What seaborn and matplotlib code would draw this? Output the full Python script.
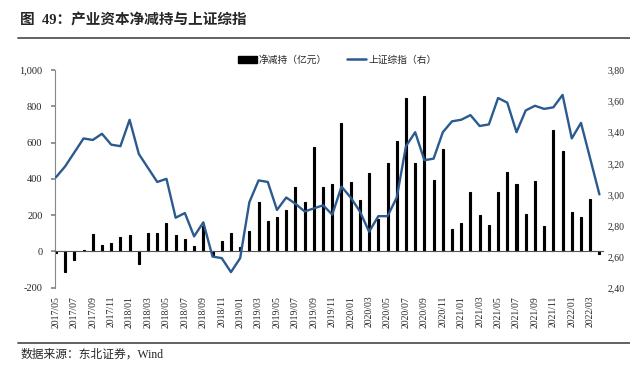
import numpy as np
import pandas as pd
import matplotlib
matplotlib.use("Agg")
import matplotlib.pyplot as plt
import seaborn as sns
from matplotlib.lines import Line2D
from matplotlib.patches import Patch
from matplotlib.ticker import FuncFormatter

# ---------------- data ----------------
months = [f"{y}/{m:02d}" for y in range(2017, 2023) for m in range(1, 13)]
months = months[months.index("2017/05"):months.index("2022/04") + 1]

net_reduction = [-8, -116, -50, 10, 97, 35, 47, 79,
                 93, -68, 99, 99, 156, 88, 70, 31, 140, -20, 57, 103,
                 22, 114, 270, 167, 189, 226, 354, 270, 575, 354, 372, 709,
                 382, 281, 431, 178, 488, 611, 843, 488, 854, 391, 565, 122,
                 155, 325, 200, 148, 325, 440, 370, 205, 390, 140, 670, 555,
                 215, 192, 290, -12]

sh_index = [3.11, 3.18, 3.27, 3.36, 3.35, 3.39, 3.32, 3.31,
            3.48, 3.26, 3.17, 3.08, 3.10, 2.85, 2.88, 2.73, 2.82, 2.60, 2.59, 2.50,
            2.59, 2.95, 3.09, 3.08, 2.90, 2.98, 2.94, 2.89, 2.91, 2.93, 2.87, 3.05,
            2.98, 2.89, 2.76, 2.86, 2.86, 2.98, 3.31, 3.40, 3.22, 3.23, 3.40, 3.47,
            3.48, 3.51, 3.44, 3.45, 3.62, 3.59, 3.40, 3.54, 3.57, 3.55, 3.56, 3.64,
            3.36, 3.46, 3.23, 3.00]

left_ticks = [-200, 0, 200, 400, 600, 800, 1000]
right_ticks = [2.40, 2.60, 2.80, 3.00, 3.20, 3.40, 3.60, 3.80]

title = "图  49：产业资本净减持与上证综指"
source = "数据来源：东北证券，Wind"
bar_label = "净减持（亿元）"
line_label = "上证综指（右）"

# ---------------- style ----------------
sns.set_theme(style="white")
plt.rcParams["font.family"] = ["Liberation Serif", "Noto Sans CJK SC", "DejaVu Sans"]
plt.rcParams["axes.unicode_minus"] = False

LINE_COLOR = "#2B5A8F"

fig = plt.figure(figsize=(6.3, 3.66), dpi=100)
ax = fig.add_axes([0.0873, 0.214, 0.8700, 0.5947])

df = pd.DataFrame({"month": months, "net": net_reduction, "idx": sh_index})
df["pos"] = np.arange(len(df))

sns.barplot(data=df, x="month", y="net", ax=ax, color="black",
            width=0.22, saturation=1, order=months,
            edgecolor="black", linewidth=0.8)
ax.set_ylim(-200, 1000)
ax.set_yticks(left_ticks)
ax.yaxis.set_major_formatter(FuncFormatter(lambda v, p: f"{int(v):,}"))
ax.set_xlim(-0.1, len(months) - 0.6)
ax.set_xlabel("")
ax.set_ylabel("")

# axes styling
for s in ["top", "right"]:
    ax.spines[s].set_visible(False)
ax.spines["left"].set_color("#888888")
ax.spines["left"].set_linewidth(0.8)
ax.spines["bottom"].set_position(("data", 0))
ax.spines["bottom"].set_color("#555555")
ax.spines["bottom"].set_linewidth(0.8)

ax.set_xticks(np.arange(0, len(months), 2))
ax.set_xticklabels(months[::2], rotation=90, fontsize=7)
ax.set_xticks(np.arange(len(months)), minor=True)
ax.tick_params(axis="x", which="both", direction="out", length=2,
               color="#555555", pad=30)
ax.tick_params(axis="x", which="major", labelsize=7)
ax.tick_params(axis="y", direction="out", length=3, color="#888888",
               labelsize=7.5, pad=6, left=True)

# right axis
ax2 = ax.twinx()
sns.lineplot(data=df, x="pos", y="idx", ax=ax2, color=LINE_COLOR,
             linewidth=1.7)
ax2.set_ylim(2.40, 3.80)
ax2.set_yticks(right_ticks)
ax2.yaxis.set_major_formatter(FuncFormatter(lambda v, p: f"{v:.2f}".replace(".", ",")))
ax2.tick_params(axis="y", length=0, labelsize=7, pad=3)
ax2.set_ylabel("")
ax2.set_xlabel("")
for s in ["top", "right", "left", "bottom"]:
    ax2.spines[s].set_visible(False)
ax2.set_xlim(ax.get_xlim())

# legend
handles = [Patch(facecolor="black", edgecolor="black"),
           Line2D([0], [0], color=LINE_COLOR, lw=1.8)]
fig.legend(handles, [bar_label, line_label], loc="center",
           bbox_to_anchor=(0.535, 0.836), ncol=2, frameon=False,
           fontsize=7, handlelength=2.0, handleheight=0.8,
           columnspacing=2.0, handletextpad=0.2)

# title, rules and source
fig.text(0.032, 0.943, title, fontsize=10.5, fontweight="bold",
         va="center", ha="left")
fig.add_artist(Line2D([0.028, 1.0], [0.896, 0.896], color="#555555", lw=1.3))
fig.add_artist(Line2D([0.028, 1.0], [0.063, 0.063], color="#555555", lw=1.3))
fig.text(0.032, 0.03, source, fontsize=8.5, va="center", ha="left")

fig.savefig("out.png", dpi=100)
